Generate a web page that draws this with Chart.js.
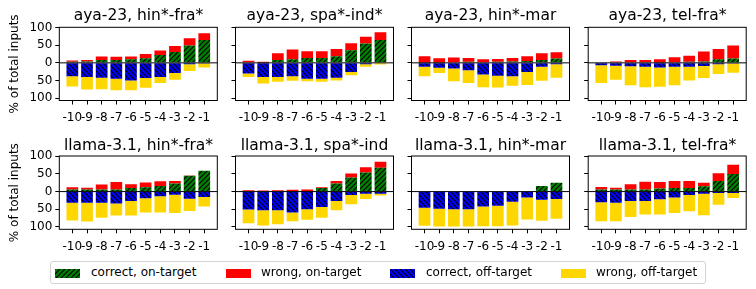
<!DOCTYPE html>
<html>
<head>
<meta charset="utf-8">
<script src="https://cdn.jsdelivr.net/npm/chart.js@4"></script>
<style>
  html, body { margin: 0; padding: 0; background: #fff; overflow: hidden; }
  #wrap { position: relative; width: 756px; height: 289px; }
  #wrap canvas { position: absolute; }
  .legend { position: absolute; left: 50px; top: 261px; width: 656px; height: 23px;
            border: 1px solid #d3d3d3; border-radius: 3px; box-sizing: border-box; }
  .legend canvas { position: absolute; top: 7px; }
  .legend span { position: absolute; top: 3px; font: 12px "DejaVu Sans"; line-height: 14px; color: #000; white-space: nowrap; }
</style>
</head>
<body>
<div id="wrap"></div>
<script>
// x positions and axis ticks
const xTicks = [-10, -9, -8, -7, -6, -5, -4, -3, -2, -1];
const yTicks = [-100, -50, 0, 50, 100];

const titles = [
  'aya-23, hin*-fra*', 'aya-23, spa*-ind*', 'aya-23, hin*-mar', 'aya-23, tel-fra*',
  'llama-3.1, hin*-fra*', 'llama-3.1, spa*-ind', 'llama-3.1, hin*-mar', 'llama-3.1, tel-fra*'
];

const seriesNames = ['correct, on-target', 'wrong, on-target', 'correct, off-target', 'wrong, off-target'];

// one row per panel, same order as titles (% of total inputs)
const correctOnTarget = [
  [3, 4, 8, 8, 10, 13, 22, 31, 49, 65],
  [2, 1, 8, 10, 14, 14, 19, 36, 55, 65],
  [1, 1, 2, 3, 2, 3, 4, 5, 8, 12],
  [0, 0, 0, 0, 1, 2, 3, 4, 10, 12],
  [6, 6, 6, 6, 10, 12, 16, 23, 45, 59],
  [0, 0, 0, 1, 1, 10, 23, 40, 54, 68],
  [0, 0, 0, 0, 0, 0, 0, 0, 16, 25],
  [6, 6, 6, 6, 9, 10, 10, 15, 30, 50]
];
const wrongOnTarget = [
  [4, 4, 10, 9, 8, 12, 13, 17, 21, 19],
  [4, 2, 19, 28, 19, 19, 20, 20, 19, 22],
  [18, 12, 13, 11, 8, 8, 10, 14, 19, 18],
  [2, 4, 8, 8, 9, 14, 17, 28, 29, 37],
  [6, 5, 14, 21, 11, 14, 13, 7, 1, 0],
  [4, 3, 4, 4, 5, 2, 7, 11, 15, 17],
  [0, 0, 0, 0, 0, 0, 0, 0, 0, 0],
  [7, 5, 15, 22, 18, 20, 20, 10, 22, 26]
];
const correctOffTarget = [
  [38, 40, 42, 45, 50, 43, 40, 29, 4, 2],
  [30, 40, 40, 38, 45, 45, 42, 26, 4, 1],
  [11, 14, 16, 21, 33, 37, 38, 26, 11, 4],
  [7, 8, 10, 11, 13, 11, 11, 9, 4, 2],
  [32, 32, 32, 34, 27, 19, 13, 9, 20, 15],
  [51, 53, 53, 59, 50, 44, 27, 10, 6, 6],
  [46, 49, 50, 50, 42, 40, 29, 17, 23, 21],
  [30, 32, 27, 27, 22, 17, 10, 6, 4, 4]
];
const wrongOffTarget = [
  [29, 36, 33, 33, 28, 28, 17, 19, 19, 11],
  [10, 19, 14, 13, 7, 9, 8, 9, 7, 4],
  [27, 15, 36, 36, 36, 33, 27, 37, 40, 38],
  [50, 40, 54, 58, 55, 53, 39, 34, 28, 26],
  [50, 53, 42, 34, 41, 40, 46, 52, 35, 27],
  [39, 43, 40, 25, 30, 30, 26, 26, 15, 5],
  [51, 50, 49, 49, 56, 58, 67, 62, 60, 56],
  [54, 52, 45, 38, 43, 44, 46, 61, 33, 14]
];

Chart.defaults.font.family = 'DejaVu Sans';
Chart.defaults.color = '#000';

function hatch(color, forward) {
  const s = 5;
  const c = document.createElement('canvas');
  c.width = c.height = s;
  const g = c.getContext('2d');
  g.fillStyle = color;
  g.fillRect(0, 0, s, s);
  g.strokeStyle = '#000';
  g.lineWidth = 1.2;
  g.beginPath();
  if (forward) {
    g.moveTo(0, s); g.lineTo(s, 0);
    g.moveTo(-1, 1); g.lineTo(1, -1);
    g.moveTo(s - 1, s + 1); g.lineTo(s + 1, s - 1);
  } else {
    g.moveTo(0, 0); g.lineTo(s, s);
    g.moveTo(s - 1, -1); g.lineTo(s + 1, 1);
    g.moveTo(-1, s - 1); g.lineTo(1, s + 1);
  }
  g.stroke();
  return g.createPattern(c, 'repeat');
}

const fills = [hatch('#008000', true), '#ff0000', hatch('#0000ff', false), '#ffd700'];

// frame + zero line on top of the bars
const framePlugin = {
  id: 'frame',
  afterDatasetsDraw(chart) {
    const { ctx, chartArea: a, scales: { y } } = chart;
    ctx.save();
    ctx.strokeStyle = '#000';
    ctx.lineWidth = 1;
    const y0 = y.getPixelForValue(0);
    ctx.beginPath();
    ctx.moveTo(a.left, y0);
    ctx.lineTo(a.right, y0);
    ctx.stroke();
    ctx.strokeRect(a.left, a.top, a.right - a.left, a.bottom - a.top);
    ctx.restore();
  }
};

const colLeft = [59.3, 235.5, 411.5, 588.2];
const plotW = 158;
const rows = [
  { top: 0, areaTop: 27.3, areaBottom: 100.5, titleTop: 6.6 },
  { top: 128, areaTop: 156, areaBottom: 229.3, titleTop: 8.2 }
];
const canvasH = 126;
const titleSize = 15.5;
const wrap = document.getElementById('wrap');

titles.forEach((title, p) => {
  const col = p % 4, row = rows[Math.floor(p / 4)];
  const left = Math.floor(colLeft[col]) - 59;
  const yW = colLeft[col] - left;
  const cw = Math.ceil(2 * yW + plotW);
  const canvas = document.createElement('canvas');
  canvas.width = cw;
  canvas.height = canvasH;
  canvas.style.left = left + 'px';
  canvas.style.top = row.top + 'px';
  wrap.appendChild(canvas);

  const titleBox = row.areaTop - row.top;
  const series = [correctOnTarget[p], wrongOnTarget[p], correctOffTarget[p].map(v => -v), wrongOffTarget[p].map(v => -v)];

  new Chart(canvas, {
    type: 'bar',
    data: {
      datasets: series.map((vals, s) => ({
        label: seriesNames[s],
        data: vals.map((v, k) => ({ x: xTicks[k], y: v })),
        backgroundColor: fills[s],
        borderWidth: 0,
        barPercentage: 0.8,
        categoryPercentage: 1.0
      }))
    },
    options: {
      responsive: false,
      animation: false,
      events: [],
      layout: { padding: 0 },
      plugins: {
        legend: { display: false },
        tooltip: { enabled: false },
        title: {
          display: true,
          text: title,
          font: { size: titleSize, weight: 'normal' },
          color: '#000',
          padding: { top: row.titleTop, bottom: titleBox - row.titleTop - titleSize * 1.2 }
        }
      },
      scales: {
        x: {
          type: 'linear',
          stacked: true,
          offset: false,
          min: -10.89,
          max: -0.11,
          border: { display: false },
          grid: { display: true, drawOnChartArea: false, drawTicks: true, tickLength: 4, color: '#000', offset: false },
          afterBuildTicks: s => { s.ticks = xTicks.map(v => ({ value: v })); },
          afterFit: s => { s.height = canvasH - (row.areaBottom - row.top); },
          ticks: { autoSkip: false, maxRotation: 0, padding: 6, font: { size: 12 }, callback: v => String(v) }
        },
        y: {
          stacked: true,
          min: -107,
          max: 101,
          border: { display: false },
          grid: { display: true, drawOnChartArea: false, drawTicks: true, tickLength: 4, color: '#000' },
          afterBuildTicks: s => { s.ticks = yTicks.map(v => ({ value: v })); },
          afterFit: s => { s.width = yW; },
          ticks: { padding: 3, font: { size: 12 }, callback: v => col === 0 ? String(Math.abs(v)) : '' },
          title: { display: col === 0, text: '% of total inputs', font: { size: 12 }, padding: { top: 8, bottom: 0 } }
        },
        // empty spacer on the right so the title centres over the plot
        yR: {
          type: 'linear',
          position: 'right',
          display: true,
          border: { display: false },
          grid: { display: false },
          ticks: { display: false },
          afterFit: s => { s.width = cw - yW - plotW; }
        }
      }
    },
    plugins: [framePlugin]
  });
});

// legend
const legend = document.createElement('div');
legend.className = 'legend';
wrap.appendChild(legend);
const patchX = [4, 175, 339, 510];
const textX = [40, 210, 375, 545];
seriesNames.forEach((name, s) => {
  const c = document.createElement('canvas');
  c.width = 25; c.height = 9;
  c.style.left = patchX[s] + 'px';
  const g = c.getContext('2d');
  g.fillStyle = fills[s];
  g.fillRect(0, 0, 25, 9);
  legend.appendChild(c);
  const t = document.createElement('span');
  t.textContent = name;
  t.style.left = textX[s] + 'px';
  legend.appendChild(t);
});
</script>
</body>
</html>
